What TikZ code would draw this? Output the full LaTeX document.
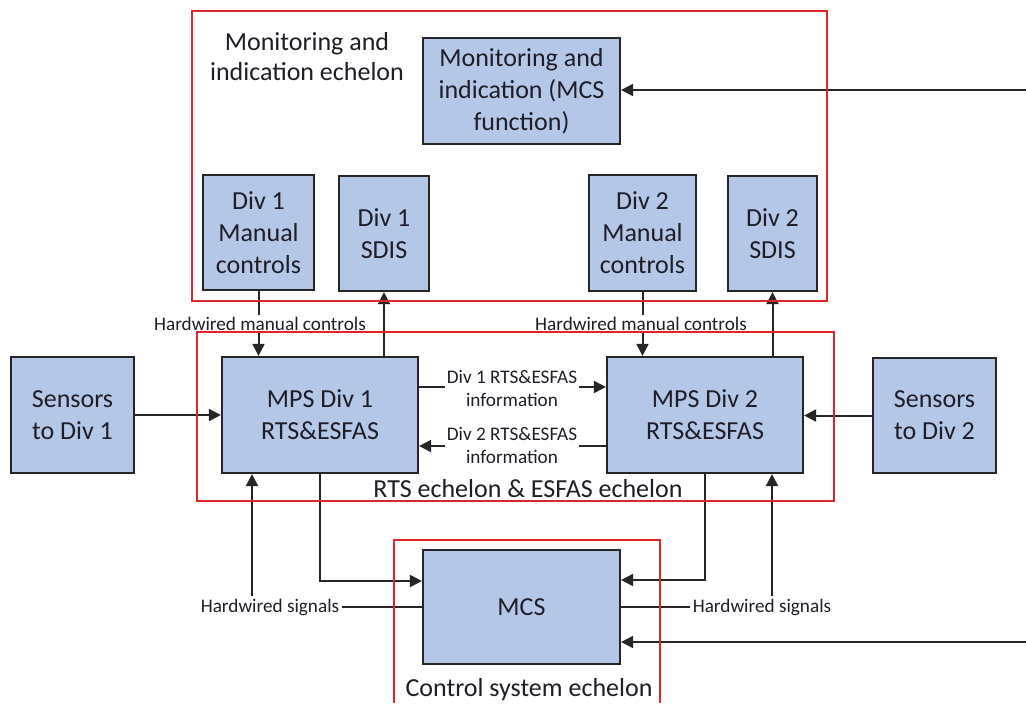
\documentclass[tikz,border=0pt]{standalone}
\usepackage{fontspec}
\setmainfont{Carlito}
\usetikzlibrary{arrows.meta,positioning}
\definecolor{boxfill}{HTML}{B4C7E7}
\definecolor{boxline}{HTML}{262626}
\definecolor{echred}{HTML}{E0242B}
\definecolor{ink}{HTML}{1E1E28}

\begin{document}
\begin{tikzpicture}[
  x=0.5pt, y=-0.5pt,
  blk/.style={draw=boxline, fill=boxfill, line width=1.1pt, align=center, inner sep=2pt, text=ink, font=\fontsize{13}{16}\selectfont},
  tag/.style={fill=white, inner sep=1pt, align=center, text=ink, font=\fontsize{9.6}{11.5}\selectfont},
  ech/.style={align=center, text=ink, font=\fontsize{13}{15}\selectfont},
  echframe/.style={draw=echred, line width=1pt},
  arr/.style={-{Triangle[length=6pt,width=6pt]}, line width=1pt, draw=boxline},
  wire/.style={line width=1pt, draw=boxline},
]
\fill[white] (0,0) rectangle (1026,703);
\useasboundingbox (0,0) rectangle (1026,703);

% monitoring and indication echelon
\node[ech] (monlbl) at (307,57) {Monitoring and\\indication echelon};
\node[blk, minimum width=98.5pt, minimum height=53pt] (mif) at (521.5,91) {Monitoring and\\indication (MCS\\function)};
\node[blk, minimum width=55.5pt, minimum height=57.5pt] (man1) at (258.5,232.5) {Div 1\\Manual\\controls};
\node[blk, minimum width=45pt, minimum height=57.5pt] (sdis1) at (384,233.5) {Div 1\\SDIS};
\node[blk, minimum width=53.5pt, minimum height=58pt] (man2) at (642.5,233) {Div 2\\Manual\\controls};
\node[blk, minimum width=44.5pt, minimum height=57.5pt] (sdis2) at (772.5,233.5) {Div 2\\SDIS};

% RTS and ESFAS echelon
\node[blk, minimum width=98pt, minimum height=58pt] (mps1) at (320,415) {MPS Div 1\\RTS\&ESFAS};
\node[blk, minimum width=98pt, minimum height=58pt] (mps2) at (705,415) {MPS Div 2\\RTS\&ESFAS};
\node[blk, minimum width=61.5pt, minimum height=58pt] (sen1) at (72.5,415) {Sensors\\to Div 1};
\node[blk, minimum width=61.5pt, minimum height=57.5pt] (sen2) at (934.5,415.5) {Sensors\\to Div 2};
\node[ech] (rtslbl) at (528,489) {RTS echelon \& ESFAS echelon};

% control system echelon
\node[blk, minimum width=98.5pt, minimum height=57pt] (mcs) at (521.5,607) {MCS};
\node[ech] (cslbl) at (529,690) {Control system echelon};

\draw[arr] (man1.south) -- (man1.south |- mps1.north);
\node[tag] (hmc1) at (260,324) {Hardwired manual controls};
\draw[arr] (mps1.north -| sdis1) -- (sdis1.south);
\draw[arr] (man2.south) -- (man2.south |- mps2.north);
\node[tag] (hmc2) at (641,324) {Hardwired manual controls};
\draw[arr] (mps2.north -| sdis2) -- (sdis2.south);

\draw[arr] ([yshift=14pt]mps1.east) -- ([yshift=14pt]mps2.west);
\node[tag] (info1) at (512,388) {Div 1 RTS\&ESFAS\\information};
\draw[arr] ([yshift=-15.5pt]mps2.west) -- ([yshift=-15.5pt]mps1.east);
\node[tag] (info2) at (512,445) {Div 2 RTS\&ESFAS\\information};

\draw[arr] (sen1) -- (mps1);
\draw[arr] (sen2.west) -- (sen2.west -| mps2.east);

\draw[arr] (mps1.south) |- ([yshift=13pt]mcs.west);
\draw[arr] (mps2.south) |- ([yshift=13.5pt]mcs.east);
\node[tag] (hws1) at (270,607) {Hardwired signals};
\draw[wire] (hws1.east) -- (mcs.west);
\draw[arr] ([xshift=-9pt]hws1.north) -- ([xshift=-9pt]hws1.north |- mps1.south);
\node[tag] (hws2) at (762,607) {Hardwired signals};
\draw[wire] (mcs.east) -- (hws2.west);
\draw[arr] ([xshift=5pt]hws2.north) -- ([xshift=5pt]hws2.north |- mps2.south);

\coordinate (edgeA) at (1026,90);
\draw[arr] (edgeA) -- (edgeA -| mif.east);
\coordinate (edgeB) at (1026,642);
\draw[arr] (edgeB) -- (edgeB -| mcs.east);

% echelon frames
\draw[echframe] (192,11) rectangle (827,301);
\draw[echframe] (197,332) rectangle (834,501);
\draw[echframe] (394,703) |- (660,540) -- (660,703);
\end{tikzpicture}
\end{document}
